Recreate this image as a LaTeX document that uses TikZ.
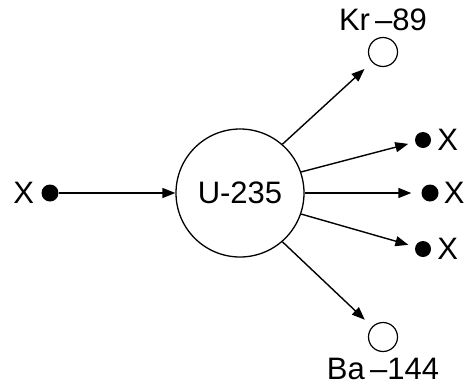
\documentclass[tikz,border=0pt]{standalone}
\usepackage{fontspec}
\setmainfont{Liberation Sans}
\usepackage{tikz}
\usetikzlibrary{arrows.meta, positioning}

\begin{document}
\begin{tikzpicture}[
    x=1pt, y=-1pt,
    every node/.style={font=\fontsize{31}{36}\selectfont},
    nucleus/.style={circle, draw, line width=1.3pt, minimum size=128pt, inner sep=0pt},
    fragment/.style={circle, draw, line width=1.2pt, minimum size=29pt, inner sep=0pt},
    neutron/.style={circle, fill=black, minimum size=16pt, inner sep=0pt},
    tag/.style={inner sep=0pt},
    arrow/.style={-{Triangle[length=13pt, width=10pt]}, line width=1.4pt},
    outarrow/.style={arrow, shorten >=7pt}
]
\useasboundingbox (0,0) rectangle (465,386);

\node[nucleus] (core) at (240,193) {U-235};
\node[neutron, minimum size=17pt] (nin) at (50,193) {};
\node[tag, left=7pt of nin] (xin) {X};

\node[fragment] (kr) at (383,52) {};
\node[tag, above=6pt of kr] (krlabel) {Kr\,\textendash89};
\node[fragment] (ba) at (383,337) {};
\node[tag, below=6pt of ba] (balabel) {Ba\,\textendash144};

\node[neutron] (n1) at (423,140) {};
\node[neutron, minimum size=17pt] (n2) at (430,193) {};
\node[neutron] (n3) at (423,249) {};
\node[tag, right=6pt of n1] (x1) {X};
\node[tag, right=5pt of n2] (x2) {X};
\node[tag, right=6pt of n3] (x3) {X};

\draw[arrow] (nin) -- (core);
\draw[outarrow, shorten >=10pt] (core.49) -- (kr);
\draw[outarrow] (core.19) -- (n1);
\draw[outarrow, shorten >=10pt] (core.east) -- (n2);
\draw[outarrow] (core.-19) -- (n3);
\draw[outarrow, shorten >=10pt] (core.-49) -- (ba);

\end{tikzpicture}
\end{document}
